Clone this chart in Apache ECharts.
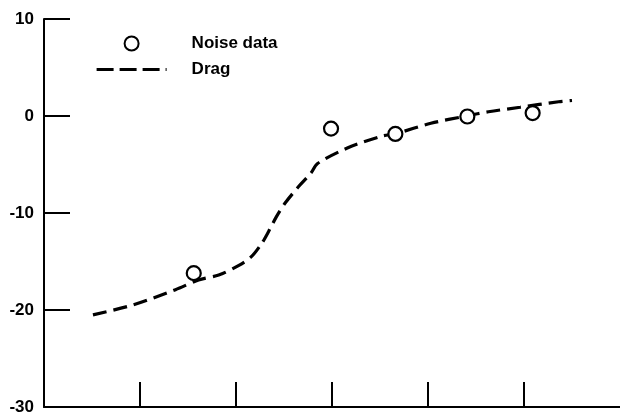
<!DOCTYPE html>
<html>
<head>
<meta charset="utf-8">
<script src="https://cdn.jsdelivr.net/npm/echarts@6/dist/echarts.min.js"></script>
<style>
  html, body { margin: 0; padding: 0; background: #fff; }
  #chart { width: 620px; height: 418px; }
</style>
</head>
<body>
<div id="chart"></div>
<script>
// Measured noise points
const noiseX = [1.56, 2.99, 3.66, 4.41, 5.09];
const noiseY = [-16.2, -1.3, -1.85, -0.05, 0.3];

// Drag prediction curve
const dragX = [0.51, 0.92, 1.37, 1.61, 1.82, 2.03, 2.16, 2.27, 2.34, 2.42, 2.51, 2.65, 2.78, 2.85, 3.16, 3.51, 3.67, 4.03, 4.40, 4.63, 4.96, 5.36, 5.50];
const dragY = [-20.5, -19.5, -17.9, -16.9, -16.4, -15.4, -14.5, -13.1, -11.9, -10.4, -9.0, -7.3, -5.9, -4.9, -3.3, -2.1, -1.8, -0.75, 0.0, 0.44, 0.9, 1.47, 1.6];

// Axis ticks
const yTicks = [-30, -20, -10, 0, 10];
const xTicks = [1, 2, 3, 4, 5];

const font = '"Liberation Sans", Arial, sans-serif';

const chart = echarts.init(document.getElementById('chart'), null, { renderer: 'canvas' });

chart.setOption({
  animation: false,
  backgroundColor: '#fff',
  grid: { left: 44, right: -4, top: 19, bottom: 11 },
  legend: {
    orient: 'vertical',
    left: 90,
    top: 30,
    itemWidth: 70,
    itemHeight: 14,
    itemGap: 9,
    textStyle: {
      fontFamily: font,
      fontWeight: 'bold',
      fontSize: 17,
      color: '#000',
      lineHeight: 14,
      padding: [0, 0, 0, 20]
    },
    data: [
      { name: 'Noise data' },
      {
        name: 'Drag',
        itemStyle: { color: 'rgba(0,0,0,0)', borderColor: 'rgba(0,0,0,0)', borderWidth: 0 },
        lineStyle: { color: '#000', width: 3.2, type: [17, 6] }
      }
    ]
  },
  xAxis: {
    type: 'value',
    min: 0,
    max: 6,
    interval: 1,
    splitLine: { show: false },
    axisLine: { onZero: false, lineStyle: { color: '#000', width: 2 } },
    axisTick: {
      inside: true,
      length: 25,
      customValues: xTicks,
      lineStyle: { color: '#000', width: 2 }
    },
    axisLabel: { show: false }
  },
  yAxis: {
    type: 'value',
    min: -30,
    max: 10,
    interval: 10,
    splitLine: { show: false },
    axisLine: { onZero: false, lineStyle: { color: '#000', width: 2 } },
    axisTick: {
      inside: true,
      length: 26,
      customValues: yTicks,
      lineStyle: { color: '#000', width: 2 }
    },
    axisLabel: {
      customValues: yTicks,
      margin: 10,
      fontFamily: font,
      fontWeight: 'bold',
      fontSize: 17,
      color: '#000'
    }
  },
  series: [
    {
      name: 'Noise data',
      type: 'scatter',
      symbol: 'circle',
      symbolSize: 14,
      itemStyle: { color: '#fff', borderColor: '#000', borderWidth: 2.2, opacity: 1 },
      z: 3,
      data: noiseX.map((x, i) => [x, noiseY[i]])
    },
    {
      name: 'Drag',
      type: 'line',
      symbol: 'none',
      smooth: 0.3,
      lineStyle: { color: '#000', width: 3.2, type: [14, 7] },
      itemStyle: { color: '#000' },
      z: 2,
      data: dragX.map((x, i) => [x, dragY[i]])
    }
  ]
});
</script>
</body>
</html>
